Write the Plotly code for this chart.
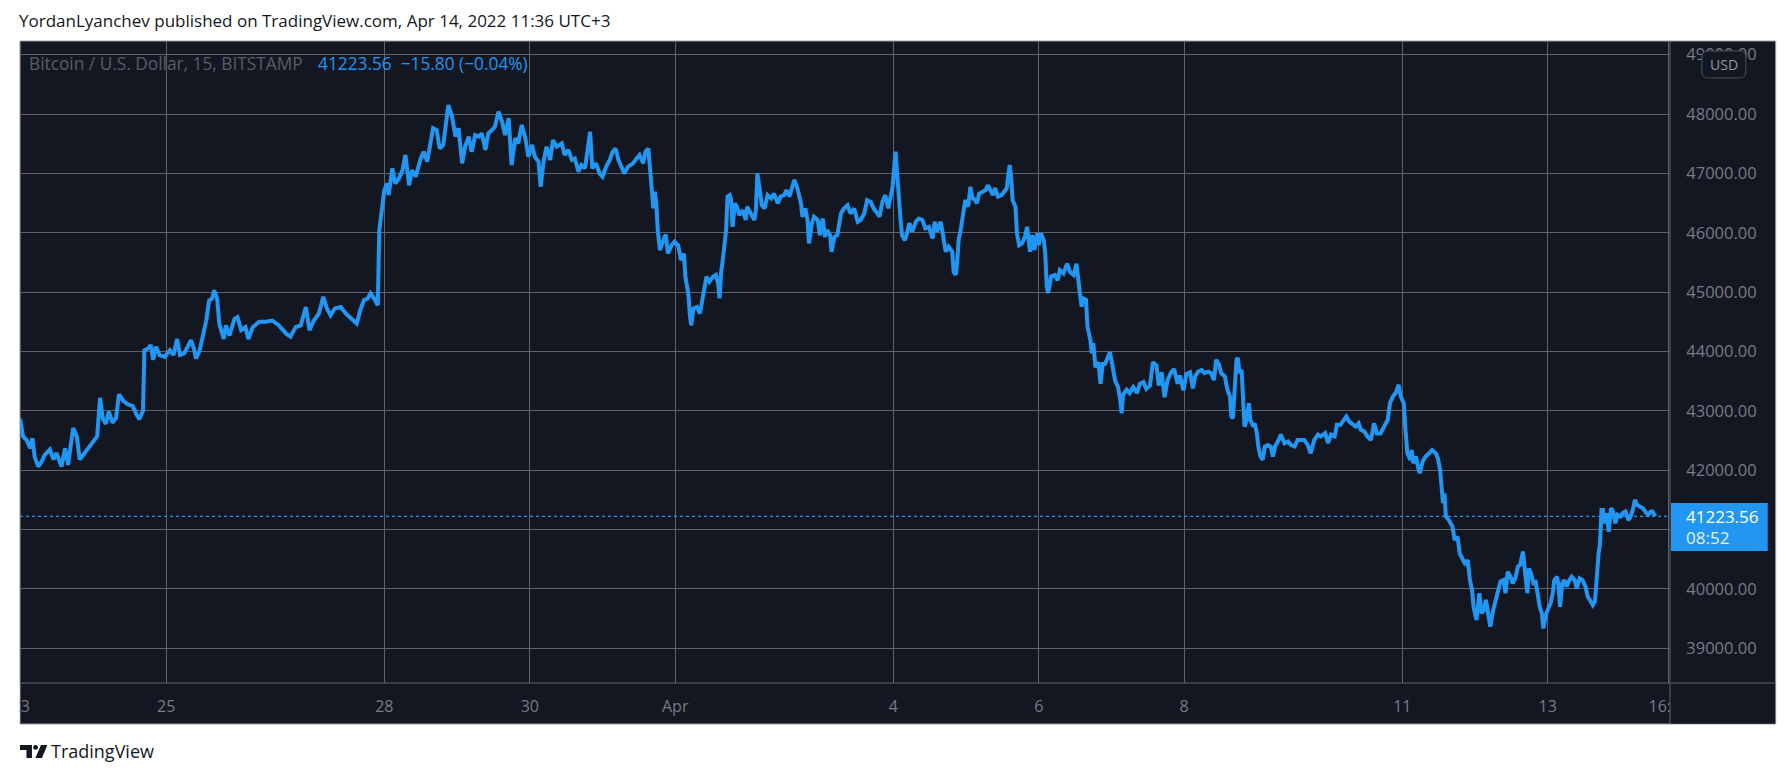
import pandas as pd
import plotly.graph_objects as go

# ---------------- data ----------------
START = "2022-03-23 00:00"   # day offsets below are counted from this moment (UTC+3)

DAYS = [
    -0.01, 0.03, 0.08, 0.13, 0.16, 0.19, 0.24, 0.29, 0.33, 0.40, 0.45, 0.49, 0.56, 0.61, 0.65,
    0.72, 0.77, 0.81, 0.86, 0.93, 0.99, 1.05, 1.09, 1.13, 1.17, 1.21, 1.26, 1.31, 1.35, 1.41,
    1.47, 1.54, 1.59, 1.63, 1.68, 1.70, 1.75, 1.79, 1.82, 1.86, 1.91, 1.98, 2.05, 2.10, 2.15,
    2.19, 2.25, 2.30, 2.34, 2.38, 2.41, 2.46, 2.50, 2.55, 2.59, 2.63, 2.66, 2.70, 2.73, 2.79,
    2.82, 2.87, 2.94, 2.98, 3.03, 3.09, 3.13, 3.19, 3.28, 3.37, 3.46, 3.55, 3.65, 3.71, 3.78,
    3.85, 3.92, 3.97, 4.03,
    4.10, 4.16, 4.21, 4.26, 4.32, 4.40, 4.47, 4.54, 4.62, 4.67, 4.72, 4.77, 4.81, 4.86, 4.91,
    4.93, 4.95, 4.97, 5.00, 5.04, 5.06, 5.11, 5.15, 5.20, 5.25, 5.29, 5.34, 5.38, 5.43, 5.50,
    5.54, 5.59, 5.63, 5.67, 5.72, 5.76, 5.81, 5.85, 5.88, 5.93, 5.98, 6.02, 6.07, 6.11, 6.16,
    6.20, 6.25, 6.30, 6.34, 6.39, 6.43, 6.48, 6.52, 6.57, 6.62, 6.66, 6.71, 6.75, 6.80, 6.84,
    6.89, 6.94, 6.98, 7.03, 7.07, 7.12, 7.15, 7.19, 7.23, 7.28, 7.32, 7.37, 7.44, 7.48, 7.53,
    7.58, 7.62, 7.67, 7.71, 7.76, 7.79, 7.83, 7.86, 7.91, 7.96, 8.00, 8.05, 8.10, 8.14,
    8.18, 8.22, 8.26, 8.30, 8.35, 8.42, 8.47, 8.51, 8.56, 8.59, 8.63, 8.65, 8.67, 8.70, 8.72,
    8.74, 8.76, 8.79, 8.83, 8.87, 8.90, 8.95, 8.99, 9.04, 9.08, 9.12, 9.14, 9.18, 9.20, 9.22,
    9.25, 9.30, 9.34, 9.38, 9.43, 9.47, 9.52, 9.56, 9.59, 9.61, 9.63, 9.66, 9.70, 9.72, 9.75,
    9.77, 9.79, 9.82, 9.85, 9.88, 9.93, 9.97, 9.99, 10.04, 10.09, 10.11, 10.13, 10.16, 10.19, 10.23,
    10.27, 10.32, 10.36, 10.41, 10.45, 10.50, 10.53, 10.57, 10.61, 10.64, 10.68, 10.73, 10.75, 10.79, 10.82,
    10.84, 10.88, 10.91, 10.96, 10.99, 11.03, 11.06, 11.09, 11.13, 11.15, 11.19, 11.23, 11.28, 11.32, 11.37,
    11.41, 11.46, 11.51, 11.55, 11.60, 11.64, 11.69, 11.73, 11.78, 11.81, 11.85, 11.89, 11.93, 11.97, 11.99,
    12.03, 12.06, 12.08, 12.10, 12.12, 12.16, 12.19, 12.22, 12.26, 12.31, 12.35, 12.40, 12.44, 12.49, 12.54,
    12.57, 12.60, 12.65, 12.68, 12.72, 12.76, 12.81, 12.83, 12.86, 12.88, 12.90, 12.92, 12.96, 12.99, 13.03,
    13.06, 13.09, 13.13, 13.15, 13.18, 13.23, 13.27, 13.30, 13.34, 13.37, 13.40, 13.44, 13.49, 13.53, 13.56,
    13.60, 13.62, 13.64, 13.68, 13.70, 13.73, 13.77, 13.81, 13.84, 13.86, 13.88, 13.91, 13.94, 13.98, 14.00,
    14.03, 14.07, 14.09, 14.11, 14.13, 14.17, 14.22, 14.26, 14.29, 14.34, 14.39, 14.43, 14.48, 14.52, 14.56,
    14.59, 14.61, 14.65, 14.67, 14.71, 14.73, 14.75, 14.78, 14.82, 14.85, 14.88, 14.91, 14.95, 14.98, 15.01,
    15.05, 15.09, 15.12, 15.14, 15.16, 15.21, 15.25, 15.30, 15.35, 15.39, 15.44, 15.48, 15.53, 15.57, 15.62,
    15.65, 15.69, 15.73, 15.77, 15.82, 15.86, 15.91, 15.94, 15.99, 16.03, 16.08,
    16.12, 16.15, 16.19, 16.24, 16.28, 16.33, 16.37, 16.41, 16.44, 16.48, 16.51, 16.56, 16.59, 16.63, 16.65,
    16.67, 16.69, 16.72, 16.74, 16.76, 16.79, 16.81, 16.83, 16.86, 16.89, 16.91, 16.95, 16.97, 17.00, 17.02,
    17.05, 17.08, 17.11, 17.15, 17.19, 17.22, 17.25, 17.29, 17.33, 17.38, 17.43, 17.47, 17.52, 17.56, 17.61,
    17.65, 17.70, 17.74, 17.79, 17.84, 17.88, 17.94, 17.98, 18.02, 18.07, 18.10, 18.15, 18.19, 18.23, 18.27,
    18.32, 18.36, 18.40, 18.43, 18.48, 18.52, 18.57, 18.61, 18.65, 18.70, 18.75, 18.80, 18.83, 18.87, 18.91,
    18.95, 18.98, 19.02, 19.04, 19.07, 19.11,
    19.13, 19.15, 19.19, 19.22, 19.24, 19.28, 19.32, 19.37, 19.41, 19.46, 19.49, 19.52, 19.54, 19.56, 19.58,
    19.60, 19.64, 19.69, 19.72, 19.76, 19.79, 19.82, 19.87, 19.90, 19.93, 19.96, 19.98, 20.02, 20.06, 20.09,
    20.12, 20.15, 20.18, 20.21, 20.25, 20.28, 20.31, 20.35, 20.39, 20.42, 20.45, 20.49, 20.52, 20.56, 20.59,
    20.62, 20.66, 20.68, 20.72, 20.74, 20.77, 20.81, 20.83, 20.86, 20.89, 20.92, 20.94, 20.98, 21.01, 21.04,
    21.07, 21.09, 21.13, 21.15, 21.17, 21.20, 21.23, 21.26, 21.30, 21.33, 21.37, 21.40, 21.44, 21.48, 21.52,
    21.55, 21.58, 21.62, 21.65, 21.68, 21.70, 21.72, 21.74, 21.76, 21.78, 21.81, 21.84, 21.87, 21.90, 21.93,
    21.96, 22.00, 22.03, 22.07, 22.11, 22.14, 22.17, 22.20, 22.23, 22.27, 22.31, 22.34, 22.38, 22.42, 22.44,
    22.48,
]

PRICES = [
    42870, 42570, 42510, 42370, 42540, 42230, 42060, 42150, 42260, 42350, 42180, 42290, 42060, 42370, 42090,
    42710, 42570, 42180, 42260, 42370, 42460, 42570, 43220, 42860, 42780, 42990, 42800, 42880, 43280, 43170,
    43110, 43080, 42940, 42860, 43000, 44020, 44050, 44110, 43860, 44080, 43940, 43910, 44020, 43940, 44210,
    43940, 43970, 44080, 44190, 44050, 43880, 44020, 44250, 44520, 44860, 44890, 45030, 44890, 44470, 44210,
    44440, 44270, 44550, 44580, 44360, 44410, 44210, 44410, 44500, 44500, 44520, 44440, 44300, 44250, 44410,
    44440, 44750, 44360, 44520,
    44640, 44920, 44725, 44610, 44725, 44750, 44640, 44560, 44470, 44700, 44865, 44890, 44980, 44890, 44780,
    46045, 46210, 46490, 46720, 46830, 46635, 47085, 46830, 46915, 47055, 47310, 46800, 47055, 46945, 47250,
    47365, 47200, 47500, 47760, 47730, 47420, 47480, 47840, 48150, 47955, 47620, 47760, 47170, 47450, 47620,
    47365, 47645, 47620, 47675, 47395, 47675, 47730, 47785, 48040, 47870, 47645, 47930, 47140, 47590, 47505,
    47815, 47590, 47280, 47480, 47280, 47200, 46775, 47200, 47450, 47225, 47560, 47450, 47505, 47310, 47395,
    47225, 47250, 47030, 47140, 47085, 47335, 47700, 47085, 47170, 47000, 46945, 47110, 47225, 47365,
    47420, 47225, 47110, 47000, 47110, 47170, 47250, 47310, 47170, 47365, 47420, 47110, 46720, 46410, 46690,
    46490, 46045, 45710, 45850, 45970, 45650, 45790, 45850, 45790, 45540, 45650, 45260, 44980, 44640, 44440,
    44725, 44750, 44640, 44920, 45260, 45175, 45260, 45290, 45150, 44895, 45315, 45600, 46045, 46610, 46635,
    46550, 46100, 46495, 46440, 46300, 46380, 46215, 46440, 46325, 46215, 46380, 47000, 46750, 46465, 46410,
    46635, 46580, 46660, 46495, 46610, 46635, 46720, 46610, 46800, 46890, 46750, 46495, 46270, 46410, 46215,
    45820, 46160, 46270, 46215, 45960, 46240, 45930, 46045, 45960, 45680, 45930, 45960, 46325, 46410, 46465,
    46325, 46410, 46185, 46215, 46325, 46550, 46520, 46410, 46325, 46270, 46520, 46635, 46410, 46660, 46775,
    47365, 46775, 46380, 46215, 45960, 45875, 46000, 46160, 46020, 46185, 46240, 46215, 46075, 46100, 45905,
    46185, 46020, 46185, 45990, 45680, 45765, 45680, 45340, 45290, 45540, 45905, 46000, 46300, 46550, 46440,
    46775, 46580, 46550, 46495, 46660, 46690, 46720, 46800, 46720, 46635, 46750, 46610, 46635, 46690, 46750,
    47140, 46945, 46550, 46440, 45990, 45790, 45820, 45930, 46100, 45820, 45680, 45960, 45710, 45990, 45790,
    45990, 45875, 45650, 45090, 44985, 45265, 45290, 45200, 45370, 45315, 45480, 45340, 45290, 45480, 45035,
    44755, 44895, 44870, 44420, 44195, 43970, 44140, 43735, 43820, 43455, 43790, 43790, 43930, 43985, 43790,
    43510, 43400, 43200, 42960, 43270, 43355, 43300, 43400, 43300, 43455, 43485, 43370, 43425, 43820, 43760,
    43425, 43650, 43230, 43510, 43650, 43705, 43455, 43595, 43345, 43620, 43650,
    43380, 43580, 43660, 43690, 43635, 43660, 43635, 43520, 43860, 43775, 43635, 43580, 43380, 43240, 42905,
    42875, 43300, 43860, 43890, 43635, 43690, 43300, 42735, 42850, 43130, 42850, 42735, 42790, 42620, 42400,
    42230, 42175, 42400, 42425, 42400, 42230, 42400, 42485, 42600, 42455, 42485, 42425, 42400, 42510, 42510,
    42510, 42425, 42285, 42510, 42600, 42570, 42625, 42455, 42600, 42570, 42765, 42765, 42850, 42905, 42820,
    42765, 42735, 42790, 42680, 42650, 42570, 42510, 42790, 42620, 42620, 42735, 42850, 43130, 43240, 43300,
    43440, 43240, 43130, 42735, 42285, 42175,
    42340, 42120, 42230, 42035, 41950, 42145, 42230, 42285, 42340, 42285, 42200, 42005, 41725, 41445, 41610,
    41220, 41160, 41050, 40825, 40880, 40600, 40515, 40405, 40490, 40150, 39985, 39700, 39475, 39930, 39590,
    39645, 39815, 39590, 39365, 39645, 39815, 39930, 40125, 40150, 39930, 40290, 40205, 40095, 40205, 40375,
    40405, 40630, 40375, 39930, 40345, 40265, 40065, 40150, 39930, 39700, 39590, 39335, 39590, 39700, 39760,
    39930, 40150, 40205, 40040, 39700, 40095, 40150, 40040, 40150, 40205, 40150, 40010, 40180, 40150, 40040,
    39870, 39815, 39730, 39790, 40375, 40600, 40770, 41330, 41330, 41105, 41275, 40965, 41360, 41305, 41105,
    41250, 41220, 41275, 41305, 41160, 41220, 41330, 41500, 41415, 41385, 41360, 41305, 41250, 41305, 41305,
    41223.56,
]

CHANGE = -15.80
COUNTDOWN = "08:52"

X_TICKS = ["2022-03-23", "2022-03-25", "2022-03-28", "2022-03-30", "2022-04-01", "2022-04-04",
           "2022-04-06", "2022-04-08", "2022-04-11", "2022-04-13", "2022-04-14 16:00"]
X_TICK_LABELS = ["23", "25", "28", "30", "Apr", "4", "6", "8", "11", "13", "16:00"]
X_RANGE = ["2022-03-22 23:44", "2022-04-14 16:22"]
Y_TICKS = [39000, 40000, 41000, 42000, 43000, 44000, 45000, 46000, 47000, 48000, 49000]
Y_RANGE = [38416, 49230]

TITLE = "YordanLyanchev published on TradingView.com, Apr 14, 2022 11:36 UTC+3"
SYMBOL = "Bitcoin / U.S. Dollar, 15, BITSTAMP"

# ---------------- styling ----------------
W, H = 1791, 778
L, R, T, B = 15, 1670, 41, 683          # plot area in page pixels
PANE_R, PANE_B = 1776, 724             # whole dark pane
BG = "#131722"
GRID = "#5f626b"
BLUE = "#2196f3"
AXIS_TXT = "#787b86"
FONT = "Open Sans, sans-serif"


def px(x):
    return (x - L) / (R - L)


def py(y):
    return (B - y) / (B - T)


times = pd.Timestamp(START) + pd.to_timedelta(DAYS, unit="D")
last = PRICES[-1]
prev = last - CHANGE
pct = CHANGE / prev * 100

# the last-price badge covers the tick label it sits on
label_box = (503, 551)
y_tick_text = []
for v in Y_TICKS:
    ypix = B - (v - Y_RANGE[0]) / (Y_RANGE[1] - Y_RANGE[0]) * (B - T)
    y_tick_text.append("" if label_box[0] - 8 < ypix < label_box[1] + 8 else f"{v:.2f}")

fig = go.Figure()
fig.add_trace(go.Scatter(
    x=times, y=PRICES, mode="lines",
    line=dict(color=BLUE, width=4), hoverinfo="skip", showlegend=False,
))

shapes = [
    # dark pane with light border
    dict(type="rect", xref="paper", yref="paper", x0=px(L), x1=px(PANE_R), y0=py(T), y1=py(PANE_B),
         fillcolor=BG, line=dict(color="#9a9da5", width=1), layer="below"),
    # last price dotted line
    dict(type="line", xref="paper", yref="y", x0=0, x1=1, y0=last, y1=last,
         line=dict(color=BLUE, width=1.2, dash="dot"), layer="above"),
    # hide overflow of the time labels
    dict(type="rect", xref="paper", yref="paper", x0=px(R + 0.5), x1=px(PANE_R - 0.5),
         y0=py(B + 0.5), y1=py(PANE_B - 0.5), fillcolor=BG, line=dict(width=0), layer="above"),
    dict(type="rect", xref="paper", yref="paper", x0=px(0), x1=px(L - 0.5),
         y0=py(B + 1), y1=py(PANE_B - 1), fillcolor="white", line=dict(width=0), layer="above"),
    # axis separators
    dict(type="line", xref="paper", yref="paper", x0=px(R), x1=px(R), y0=py(T), y1=py(PANE_B),
         line=dict(color=GRID, width=1), layer="above"),
    dict(type="line", xref="paper", yref="paper", x0=px(L), x1=px(PANE_R), y0=py(B), y1=py(B),
         line=dict(color=GRID, width=1), layer="above"),
    # last price label box
    dict(type="rect", xref="paper", yref="paper", x0=px(R + 1), x1=px(1768),
         y0=py(label_box[0]), y1=py(label_box[1]),
         fillcolor=BLUE, line=dict(width=0), layer="above"),
]

# USD badge (rounded rectangle)
bx0, bx1, by0, by1, rr = 1702, 1746, 51, 78, 6
badge = (f"M {px(bx0 + rr)},{py(by0)} L {px(bx1 - rr)},{py(by0)} "
         f"Q {px(bx1)},{py(by0)} {px(bx1)},{py(by0 + rr)} L {px(bx1)},{py(by1 - rr)} "
         f"Q {px(bx1)},{py(by1)} {px(bx1 - rr)},{py(by1)} L {px(bx0 + rr)},{py(by1)} "
         f"Q {px(bx0)},{py(by1)} {px(bx0)},{py(by1 - rr)} L {px(bx0)},{py(by0 + rr)} "
         f"Q {px(bx0)},{py(by0)} {px(bx0 + rr)},{py(by0)} Z")
shapes.append(dict(type="path", xref="paper", yref="paper", path=badge,
                   fillcolor=BG, line=dict(color="#4c4f59", width=1), layer="above"))

# TradingView logo
ink = "#131722"
logo1 = (f"M {px(15)},{py(745)} L {px(27)},{py(745)} L {px(27)},{py(758)} L {px(21.5)},{py(758)} "
         f"L {px(21.5)},{py(750)} L {px(15)},{py(750)} Z")
logo2 = (f"M {px(36)},{py(745)} L {px(42.5)},{py(745)} L {px(37)},{py(758)} L {px(30.5)},{py(758)} Z")
shapes.append(dict(type="path", xref="paper", yref="paper", path=logo1, fillcolor=ink, line=dict(width=0)))
shapes.append(dict(type="path", xref="paper", yref="paper", path=logo2, fillcolor=ink, line=dict(width=0)))
shapes.append(dict(type="circle", xref="paper", yref="paper", x0=px(28.2), x1=px(33), y0=py(745), y1=py(749.8),
                   fillcolor=ink, line=dict(width=0)))


def ann(text, x, y, size, color, xanchor="left", yanchor="middle"):
    return dict(text=text, xref="paper", yref="paper", x=px(x), y=py(y), xanchor=xanchor, yanchor=yanchor,
                showarrow=False, font=dict(family=FONT, size=size, color=color), borderpad=0)


annotations = [
    ann(TITLE, 13, 21, 17, "#131722"),
    ann(SYMBOL, 23, 64, 17.3, "#5a5d67"),
    ann(f"{last:.2f}&nbsp;&nbsp;{CHANGE:.2f} ({pct:.2f}%)".replace("-", "\u2212"), 313, 64, 17.3, BLUE),
    ann("USD", 1724, 64.5, 14, "#9598a1", xanchor="center"),
    ann(f"{last:.2f}", 1685, 516, 17, "white"),
    ann(COUNTDOWN, 1685, 537.5, 17, "#e6f2fd"),
    ann("TradingView", 45, 751, 18, "#131722"),
]

fig.update_layout(
    width=W, height=H, autosize=False,
    margin=dict(l=L, r=W - R, t=T, b=H - B, pad=0),
    paper_bgcolor="white", plot_bgcolor=BG,
    font=dict(family=FONT, color=AXIS_TXT, size=16),
    shapes=shapes, annotations=annotations,
    xaxis=dict(
        type="date", range=X_RANGE, tickmode="array", tickvals=X_TICKS, ticktext=X_TICK_LABELS,
        showgrid=True, gridcolor=GRID, gridwidth=1, zeroline=False, showline=False,
        ticks="outside", ticklen=9, tickcolor="rgba(0,0,0,0)",
        tickfont=dict(family=FONT, size=16, color=AXIS_TXT), fixedrange=True,
    ),
    yaxis=dict(
        range=Y_RANGE, side="right", tickmode="array", tickvals=Y_TICKS, ticktext=y_tick_text,
        showgrid=True, gridcolor=GRID, gridwidth=1, zeroline=False, showline=False,
        ticks="outside", ticklen=12, tickcolor="rgba(0,0,0,0)",
        tickfont=dict(family=FONT, size=16.5, color=AXIS_TXT), fixedrange=True,
    ),
    showlegend=False,
)

fig.write_html("out.html", config={"displayModeBar": False},
               post_script="document.body.style.margin='0';document.body.style.overflow='hidden';")
